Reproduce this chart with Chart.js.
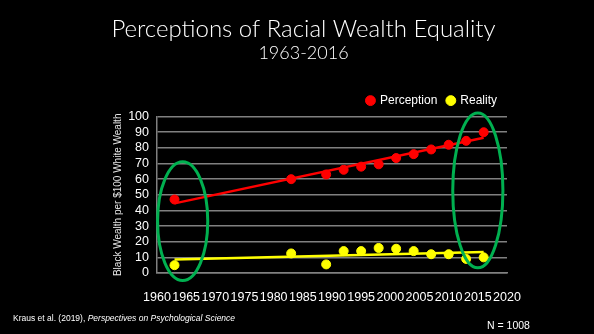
<!DOCTYPE html>
<html><head><meta charset="utf-8">
<script src="https://cdn.jsdelivr.net/npm/chart.js@4.4.1/dist/chart.umd.min.js"></script>
<style>
html,body{margin:0;padding:0;background:#000;}
#wrap{position:relative;width:594px;height:334px;background:#000;}
canvas{position:absolute;left:0;top:0;}
.foot{position:absolute;color:#fff;font-family:"Liberation Sans",Arial,sans-serif;white-space:nowrap;}
</style></head>
<body>
<div id="wrap">
<canvas id="c" width="594" height="334"></canvas>
<div class="foot" style="left:13px;top:313px;font-size:8.5px;">Kraus et al. (2019), <i>Perspectives on Psychological Science</i></div>
<div class="foot" style="left:487px;top:319px;font-size:10.5px;">N = 1008</div>
</div>
<script>
const years = [1963, 1983, 1989, 1992, 1995, 1998, 2001, 2004, 2007, 2010, 2013, 2016];
const perception = [47, 60, 63, 66, 68, 69.5, 73.5, 76, 79, 82, 84.5, 90];
const reality = [5, 12.5, 5.5, 14, 14, 16, 15.5, 14, 12, 12, 9, 10];
const trendYears = [1963, 2016];
const perceptionTrend = [44.5, 86.5];
const realityTrend = [8.7, 13.5];
const xTicks = [1960, 1965, 1970, 1975, 1980, 1985, 1990, 1995, 2000, 2005, 2010, 2015, 2020];
const yTicks = [0, 10, 20, 30, 40, 50, 60, 70, 80, 90, 100];
// highlight ellipses: center year, center value, half-width (years), half-height (value)
const ellipseCenterYears = [1964.4, 2015.0];
const ellipseCenterValues = [33.2, 52.8];
const ellipseHalfYears = [4.3, 4.3];
const ellipseHalfValues = [38, 49.5];

const pts = (xs, ys) => xs.map((x, i) => ({x: x, y: ys[i]}));

const ellipsePlugin = {
  id: 'ellipses',
  afterDatasetsDraw(chart) {
    const ctx = chart.ctx, xs = chart.scales.x, ys = chart.scales.y;
    ctx.save();
    ctx.strokeStyle = '#00b050';
    ctx.lineWidth = 3;
    ellipseCenterYears.forEach((cy, i) => {
      const cx = xs.getPixelForValue(cy);
      const cyp = ys.getPixelForValue(ellipseCenterValues[i]);
      const rx = Math.abs(xs.getPixelForValue(cy + ellipseHalfYears[i]) - cx);
      const ry = Math.abs(ys.getPixelForValue(ellipseCenterValues[i] + ellipseHalfValues[i]) - cyp);
      ctx.beginPath();
      ctx.ellipse(cx, cyp, rx, ry, 0, 0, Math.PI * 2);
      ctx.stroke();
    });
    ctx.restore();
  }
};

const bgPlugin = {
  id: 'bg',
  beforeDraw(chart) {
    const ctx = chart.ctx;
    ctx.save();
    ctx.fillStyle = '#000';
    ctx.fillRect(0, 0, chart.width, chart.height);
    ctx.restore();
  }
};

Chart.defaults.font.family = '"Liberation Sans", Arial, sans-serif';
Chart.defaults.color = '#fff';

new Chart(document.getElementById('c'), {
  type: 'scatter',
  data: {
    datasets: [
      {label: 'Perception', data: pts(years, perception), backgroundColor: '#ff0000', borderColor: '#ff0000', pointRadius: 4.5, pointHoverRadius: 4.5, order: 1},
      {label: 'Reality', data: pts(years, reality), backgroundColor: '#ffff00', borderColor: '#ffff00', pointRadius: 4.5, pointHoverRadius: 4.5, order: 1},
      {label: 'Perception trend', data: pts(trendYears, perceptionTrend), showLine: true, borderColor: '#ff0000', borderWidth: 2.5, pointRadius: 0, order: 2},
      {label: 'Reality trend', data: pts(trendYears, realityTrend), showLine: true, borderColor: '#ffff00', borderWidth: 2.5, pointRadius: 0, order: 2}
    ]
  },
  options: {
    responsive: false,
    animation: false,
    events: [],
    layout: {padding: {left: 100, right: 87, top: 6, bottom: 31}},
    plugins: {
      title: {display: true, text: 'Perceptions of Racial Wealth Equality', color: '#fff',
        font: {size: 24, weight: 300, family: 'Lato, "Liberation Sans", sans-serif', lineHeight: 0.9}, padding: {top: 12, bottom: 0}},
      subtitle: {display: true, text: '1963-2016', color: '#fff',
        font: {size: 18, weight: 300, family: 'Lato, "Liberation Sans", sans-serif', lineHeight: 1.0}, padding: {top: 4.5, bottom: 22.5}},
      legend: {
        display: true, position: 'top', align: 'end',
        labels: {
          filter: item => item.datasetIndex < 2,
          usePointStyle: true, pointStyle: 'circle', boxWidth: 7, boxHeight: 7,
          color: '#fff', font: {size: 12}, padding: 10
        }
      },
      tooltip: {enabled: false}
    },
    scales: {
      x: {
        type: 'linear', min: 1960, max: 2020,
        afterBuildTicks: s => { s.ticks = xTicks.map(v => ({value: v})); },
        afterFit: s => { s.height = 30; },
        ticks: {color: '#fff', font: {size: 12.5}, autoSkip: false, maxRotation: 0, padding: 17,
          callback: v => String(v)},
        grid: {display: false, drawTicks: false},
        border: {display: true, color: '#808080', width: 1.5}
      },
      y: {
        min: 0, max: 100,
        afterBuildTicks: s => { s.ticks = yTicks.map(v => ({value: v})); },
        afterFit: s => { s.width = 57; },
        ticks: {color: '#fff', font: {size: 12.5}, padding: 8, autoSkip: false, callback: v => String(v)},
        grid: {color: '#808080', lineWidth: 1.5, drawTicks: false},
        border: {display: true, color: '#808080', width: 1.5},
        title: {display: true, text: 'Black Wealth per $100 White Wealth', color: '#e6e6e6', font: {size: 10}, padding: {top: 12, bottom: 0}}
      }
    }
  },
  plugins: [bgPlugin, ellipsePlugin]
});
</script>
</body></html>
